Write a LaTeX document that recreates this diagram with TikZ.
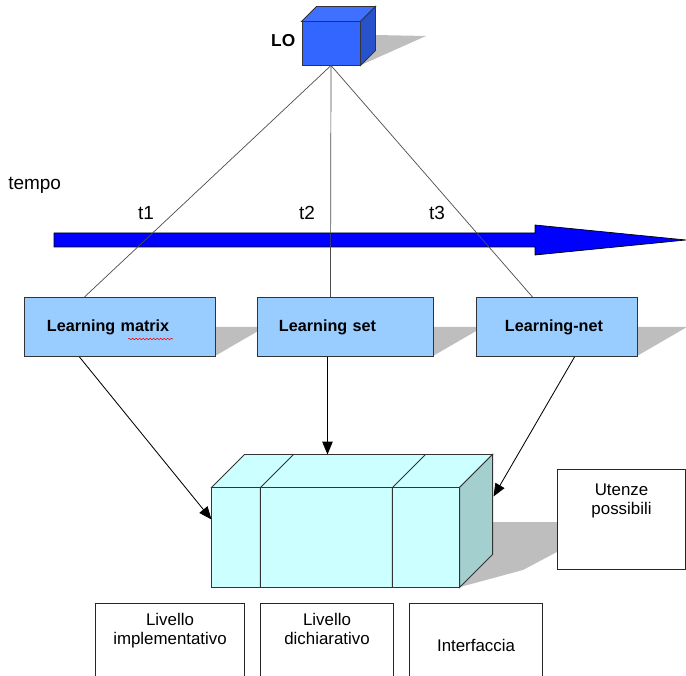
\documentclass[tikz,border=0pt]{standalone}
\usepackage{fontspec}
\setmainfont{Liberation Sans}
\usepackage{tikz}
\usetikzlibrary{calc,arrows.meta,decorations.pathmorphing}
\usepackage{xcolor}
\definecolor{lofront}{RGB}{51,102,255}
\definecolor{lotop}{RGB}{64,112,255}
\definecolor{loside}{RGB}{40,82,204}
\definecolor{boxblue}{RGB}{153,204,255}
\definecolor{storefront}{RGB}{204,255,255}
\definecolor{storeside}{RGB}{163,208,206}
\definecolor{shadowgray}{RGB}{190,190,190}

\begin{document}
\begin{tikzpicture}[x=0.025cm,y=-0.025cm,
    lbox/.style={draw=black!80,fill=boxblue,line width=0.7pt,minimum height=1.475cm,align=left,font=\fontsize{11.5}{14}\bfseries\selectfont},
    levelbox/.style={draw=black!85,fill=white,line width=0.7pt,anchor=north,minimum height=2.5cm},
    plain/.style={font=\fontsize{12}{13.5}\selectfont,align=center},
    tlabel/.style={font=\fontsize{13.5}{16}\selectfont},
    faceline/.style={draw=black!80,line width=0.7pt},
    thinline/.style={draw=black!70,line width=0.5pt},
    feed/.style={draw=black,line width=0.6pt,-{Triangle[length=0.32cm,width=0.26cm]}}]
    \clip (0,0) rectangle (686,676);
    % shadows
    \fill[shadowgray] (375,35) -- (426,36) -- (361,65) -- cycle;
    \fill[shadowgray] (215,327) -- (265,327) -- (215,356) -- cycle;
    \fill[shadowgray] (433,327) -- (483,327) -- (433,356) -- cycle;
    \fill[shadowgray] (637,327) -- (687,327) -- (637,356) -- cycle;
    \fill[shadowgray] (492,522) -- (570,522) -- (570,545) -- (523,570) -- (460,587) -- cycle;
    % LO cube
    \node[faceline,fill=lofront,minimum width=1.45cm,minimum height=1.075cm,inner sep=0pt] (lo) at (331,43.5) {};
    \filldraw[faceline,fill=lotop] (lo.north west) -- ++(15,-15) -- ($(lo.north east)+(15,-15)$) -- (lo.north east) -- cycle;
    \filldraw[faceline,fill=loside] (lo.north east) -- ++(15,-15) -- ($(lo.south east)+(15,-15)$) -- (lo.south east) -- cycle;
    \node[anchor=east,font=\fontsize{12.3}{14}\bfseries\selectfont,inner sep=0pt] (lotext) at ($(lo.west)+(-6,-3)$) {LO};
    % time axis
    \node[tlabel,anchor=west,inner sep=0pt] (tempo) at (8,185) {tempo};
    \filldraw[fill=blue,draw=black,line width=0.5pt] (54,233) -- (535,233) -- (535,225) -- (686,240) -- (535,255) -- (535,247) -- (54,247) -- cycle;
    \node[tlabel] (t1) at (146,213) {t1};
    \node[tlabel] (t2) at (307,213) {t2};
    \node[tlabel] (t3) at (437,213) {t3};
    % learning boxes
    \node[lbox,text width=3.65cm,inner xsep=0.55cm] (lmatrix) at (120,327) {Learning matrix};
    \node[lbox,text width=3.325cm,inner xsep=0.525cm] (lset) at (345.5,327) {Learning set};
    \node[lbox,text width=2.6cm,inner xsep=0.7cm] (lnet) at (557,327) {Learning-net};
    \draw[red,line width=0.4pt,decorate,decoration={snake,amplitude=0.5pt,segment length=2.5pt}] (128,339) -- (173,339);
    \draw[thinline] (lo.south) -- ($(lmatrix.north west)+(60,0)$);
    \draw[thinline] (lo.south) -- ($(lset.north west)+(73,0)$);
    \draw[thinline] (lo.south) -- ($(lnet.north west)+(56,0)$);
    % store cube
    \node[faceline,fill=storefront,minimum width=6.175cm,minimum height=2.475cm,inner sep=0pt] (store) at (335.5,537.5) {};
    \filldraw[faceline,fill=storefront] (store.north west) -- ++(33,-33) -- ($(store.north east)+(33,-33)$) -- (store.north east) -- cycle;
    \filldraw[faceline,fill=storeside] (store.north east) -- ++(33,-33) -- ($(store.south east)+(33,-33)$) -- (store.south east) -- cycle;
    \draw[faceline] ($(store.south west)+(49,0)$) -- ($(store.north west)+(49,0)$) -- ++(33,-33);
    \draw[faceline] ($(store.south west)+(181,0)$) -- ($(store.north west)+(181,0)$) -- ++(33,-33);
    \draw[feed] ($(lmatrix.south west)+(55,0)$) -- ($(store.north west)+(0,32)$);
    \draw[feed] ($(lset.south west)+(70,0)$) -- ($(store.north west)+(116,-33)$);
    \draw[feed] ($(lnet.south west)+(98,0)$) -- ($(store.north east)+(34,9)$);
    % users
    \node[draw=black!85,fill=white,line width=0.7pt,minimum width=3.175cm,minimum height=2.475cm] (utenze) at (621.5,519.5) {};
    \node[plain,anchor=north,inner sep=0pt] (utenzet) at ($(utenze.north)+(0,14)$) {Utenze\\possibili};
    % levels
    \node[levelbox,minimum width=3.7cm] (impl) at (170,603) {};
    \node[levelbox,minimum width=3.3cm] (dich) at (327,603) {};
    \node[levelbox,minimum width=3.3cm] (interf) at (476,603) {};
    \node[plain,anchor=north,inner sep=0pt] (implt) at ($(impl.north)+(0,10)$) {Livello\\implementativo};
    \node[plain,anchor=north,inner sep=0pt] (dicht) at ($(dich.north)+(0,10)$) {Livello\\dichiarativo};
    \node[plain] (interft) at ($(interf.north)+(0,42)$) {Interfaccia};
\end{tikzpicture}
\end{document}
